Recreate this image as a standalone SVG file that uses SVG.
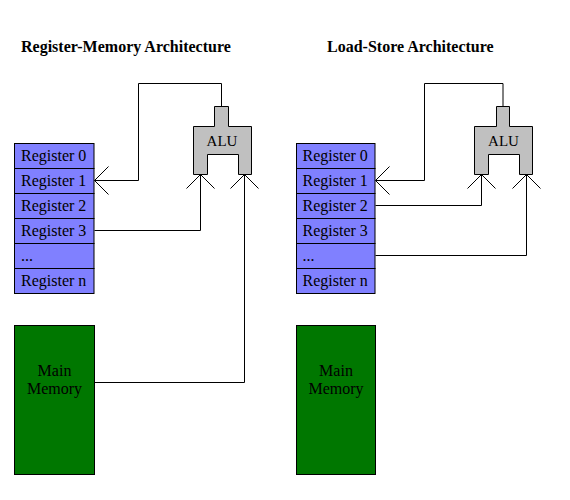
<svg xmlns="http://www.w3.org/2000/svg" width="570" height="500" viewBox="0 0 570 500">
<style>
  .title{font-family:"Liberation Serif","Times New Roman",serif;font-weight:bold;font-size:16px;fill:#000}
  .reg rect{fill:#8080ff;stroke:#000;stroke-width:1}
  .reg text,.mem text,.alu text{font-family:"Liberation Serif","Times New Roman",serif;font-size:16px;fill:#000}
  .mem rect{fill:#007700;stroke:#000;stroke-width:1}
  .alu path{fill:#c0c0c0;stroke:#000;stroke-width:1}
  .conn path{fill:none;stroke:#000;stroke-width:1;marker-end:url(#arr)}
</style>
<defs>
  <marker id="arr" markerUnits="userSpaceOnUse" viewBox="-16 -16 17 32" refX="0" refY="0" markerWidth="17" markerHeight="32" orient="auto" overflow="visible">
    <path d="M-14,-14 L0,0 L-14,14" fill="none" stroke="#000" stroke-width="1"/>
  </marker>
</defs>
<rect width="570" height="500" fill="#fff"/>
<text class="title" x="21" y="51.5">Register-Memory Architecture</text>
<text class="title" x="327" y="51.5">Load-Store Architecture</text>

<!-- Left: Register-Memory -->
<g id="regs-left" class="reg">
  <rect x="14.5" y="143.5" width="79.5" height="25"/>
  <rect x="14.5" y="168.5" width="79.5" height="25"/>
  <rect x="14.5" y="193.5" width="79.5" height="25"/>
  <rect x="14.5" y="218.5" width="79.5" height="25"/>
  <rect x="14.5" y="243.5" width="79.5" height="25"/>
  <rect x="14.5" y="268.5" width="79.5" height="25"/>
  <text x="21" y="161">Register 0</text>
  <text x="21" y="186">Register 1</text>
  <text x="21" y="211">Register 2</text>
  <text x="21" y="236">Register 3</text>
  <text x="21" y="261">...</text>
  <text x="21" y="286">Register n</text>
</g>
<g id="alu-left" class="alu">
  <path d="M214.5,106.5 H228.5 V126.5 H251.5 V174.5 H238.5 V154.5 H207.5 V174.5 H193.5 V126.5 H214.5 Z"/>
  <text x="222" y="146" text-anchor="middle" style="font-size:15px">ALU</text>
</g>
<g id="mem-left" class="mem">
  <rect x="14.5" y="325.5" width="80" height="149"/>
  <text x="54.5" y="376" text-anchor="middle">Main</text>
  <text x="54.5" y="394" text-anchor="middle">Memory</text>
</g>

<!-- Right: Load-Store -->
<g id="regs-right" class="reg">
  <rect x="296.5" y="143.5" width="78.5" height="25"/>
  <rect x="296.5" y="168.5" width="78.5" height="25"/>
  <rect x="296.5" y="193.5" width="78.5" height="25"/>
  <rect x="296.5" y="218.5" width="78.5" height="25"/>
  <rect x="296.5" y="243.5" width="78.5" height="25"/>
  <rect x="296.5" y="268.5" width="78.5" height="25"/>
  <text x="302.5" y="161">Register 0</text>
  <text x="302.5" y="186">Register 1</text>
  <text x="302.5" y="211">Register 2</text>
  <text x="302.5" y="236">Register 3</text>
  <text x="302.5" y="261">...</text>
  <text x="302.5" y="286">Register n</text>
</g>
<g id="alu-right" class="alu">
  <path d="M496.5,106.5 H509.5 V126.5 H532.5 V174.5 H519.5 V154.5 H488.5 V174.5 H474.5 V126.5 H496.5 Z"/>
  <text x="503.5" y="146" text-anchor="middle" style="font-size:15px">ALU</text>
</g>
<g id="mem-right" class="mem">
  <rect x="296.5" y="325.5" width="79" height="149"/>
  <text x="336" y="376" text-anchor="middle">Main</text>
  <text x="336" y="394" text-anchor="middle">Memory</text>
</g>

<g id="connectors" class="conn">
  <path d="M221.5,106 V83.5 H138.5 V180.5 H94.5"/>
  <path d="M94.5,230.5 H200.5 V174.5"/>
  <path d="M94.5,382.5 H244.5 V174.5"/>
  <path d="M503,106 V83.5 H424.5 V180.5 H375.5"/>
  <path d="M375.5,205.5 H481.5 V174.5"/>
  <path d="M375.5,255.5 H526.5 V174.5"/>
</g>
</svg>
